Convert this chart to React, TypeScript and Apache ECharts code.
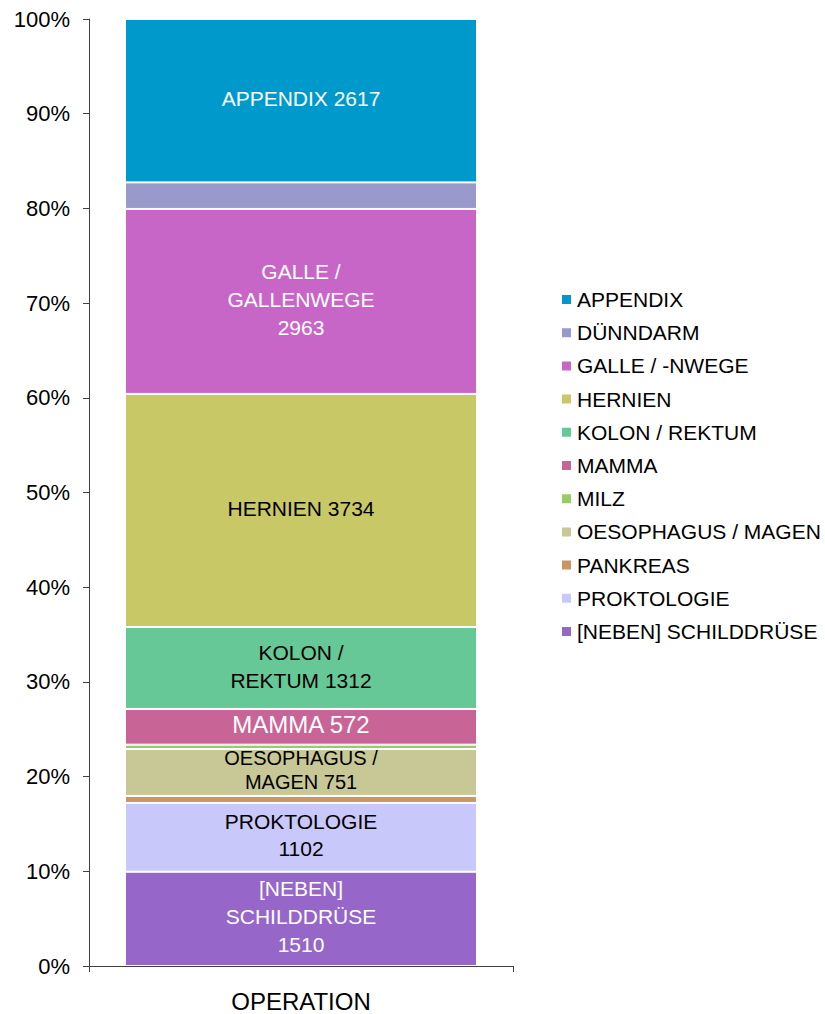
import React, { useEffect, useRef } from "react";
import * as echarts from "echarts";

const categories = ["OPERATION"];
const names = [
  "APPENDIX",
  "DÜNNDARM",
  "GALLE / -NWEGE",
  "HERNIEN",
  "KOLON / REKTUM",
  "MAMMA",
  "MILZ",
  "OESOPHAGUS / MAGEN",
  "PANKREAS",
  "PROKTOLOGIE",
  "[NEBEN] SCHILDDRÜSE",
];
const counts = [2617, 425, 2963, 3734, 1312, 572, 70, 751, 112, 1102, 1510];
const barLabels = [
  "APPENDIX 2617",
  "",
  "GALLE /\nGALLENWEGE\n2963",
  "HERNIEN 3734",
  "KOLON /\nREKTUM 1312",
  "MAMMA 572",
  "",
  "OESOPHAGUS /\nMAGEN 751",
  "",
  "PROKTOLOGIE\n1102",
  "[NEBEN]\nSCHILDDRÜSE\n1510",
];
const colors = [
  "#0099CC",
  "#9999CC",
  "#C866C8",
  "#C8C866",
  "#66C896",
  "#C86496",
  "#99CC66",
  "#C8C896",
  "#C89664",
  "#C8C8FA",
  "#9666C8",
];
const labelColors = ["#fff", "#000", "#fff", "#000", "#000", "#fff", "#000", "#000", "#000", "#000", "#fff"];
const labelSizes = [21, 21, 21, 21, 21, 24, 21, 20, 21, 21, 21];
const labelLineHeights = [28, 28, 28, 28, 28, 28, 28, 24, 28, 27, 28];
const yTicks = { min: 0, max: 100, interval: 10 };

const FONT = "'Liberation Sans', Arial, sans-serif";

export default function App() {
  const ref = useRef<HTMLDivElement>(null);
  useEffect(() => {
    if (!ref.current) return;
    const chart = echarts.init(ref.current, undefined, { renderer: "svg" });
    const total = counts.reduce((a, b) => a + b, 0);
    const order = names.map((_, i) => i).reverse();
    const series = order.map((i) => ({
      name: names[i],
      type: "bar",
      stack: "total",
      barWidth: 352,
      data: [(counts[i] / total) * 100],
      itemStyle: { color: colors[i], borderColor: "#fff", borderWidth: 1 },
      label: {
        show: barLabels[i] !== "",
        position: "inside",
        offset: [0, -2],
        formatter: barLabels[i],
        color: labelColors[i],
        fontSize: labelSizes[i],
        lineHeight: labelLineHeights[i],
        fontFamily: FONT,
      },
    }));
    chart.setOption({
      animation: false,
      textStyle: { fontFamily: FONT },
      grid: { left: 89, right: 312, top: 19, bottom: 48, containLabel: false },
      legend: {
        orient: "vertical",
        left: 560,
        top: 289,
        padding: 0,
        itemWidth: 11,
        itemHeight: 11,
        itemGap: 12.2,
        icon: "rect",
        data: names,
        textStyle: { fontSize: 21, color: "#000", fontFamily: FONT, lineHeight: 21 },
      },
      xAxis: {
        type: "category",
        data: categories,
        axisLine: { lineStyle: { color: "#404040", width: 1 } },
        axisTick: { show: true, length: 6, lineStyle: { color: "#404040" } },
        axisLabel: { color: "#000", fontSize: 24, margin: 23, fontFamily: FONT },
      },
      yAxis: {
        type: "value",
        min: yTicks.min,
        max: yTicks.max,
        interval: yTicks.interval,
        axisLine: { show: true, lineStyle: { color: "#404040", width: 1 } },
        axisTick: { show: true, length: 6, lineStyle: { color: "#404040" } },
        splitLine: { show: false },
        axisLabel: { color: "#000", fontSize: 22, margin: 19, formatter: "{value}%", fontFamily: FONT },
      },
      series,
    });
    return () => chart.dispose();
  }, []);
  return (
    <div
      ref={ref}
      style={{ position: "absolute", left: 0, top: 0, width: 825, height: 1014, background: "#fff" }}
    />
  );
}
